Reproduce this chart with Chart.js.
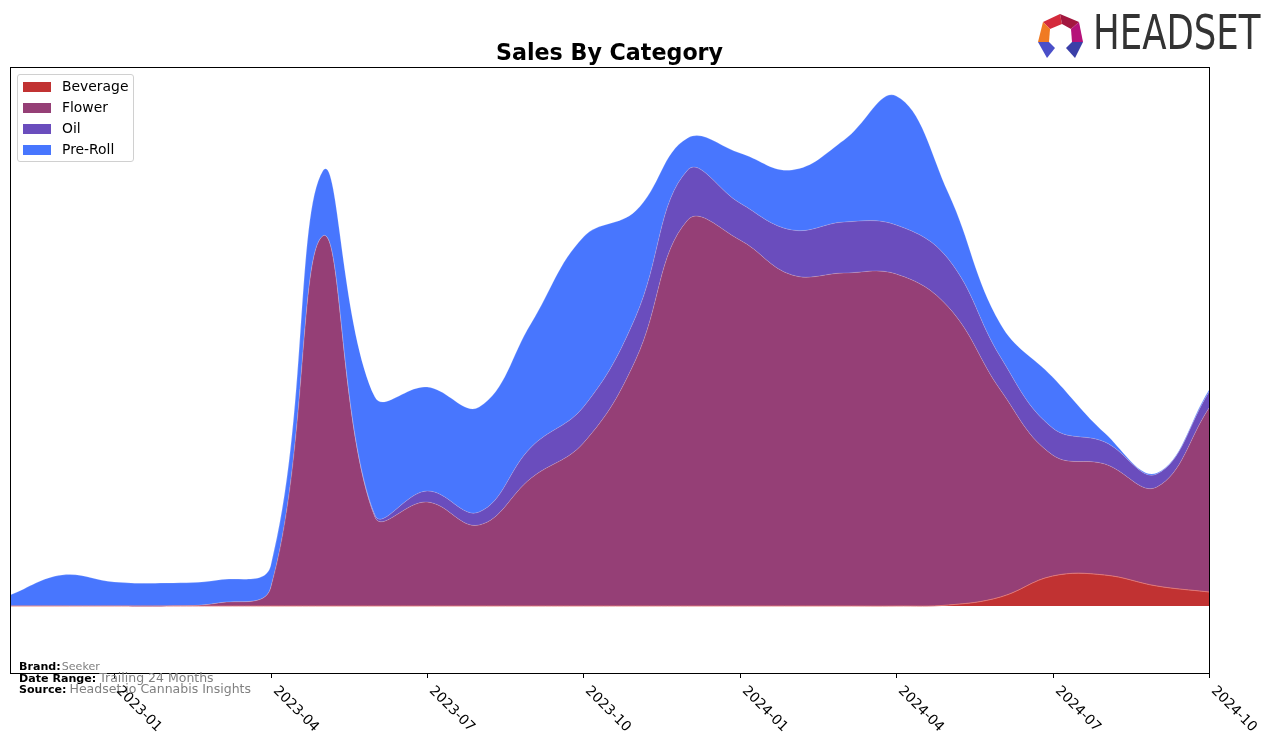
<!DOCTYPE html>
<html>
<head>
<meta charset="utf-8">
<script src="https://cdn.jsdelivr.net/npm/chart.js@4.4.1/dist/chart.umd.min.js"></script>
<style>
body{margin:0;background:#fff;font-family:"DejaVu Sans",sans-serif;}
#wrap{position:relative;width:1276px;height:743px;overflow:hidden;}
#chart{position:absolute;left:0;top:0;}
.abs{position:absolute;white-space:nowrap;line-height:normal;}
#title{left:0;width:1219px;text-align:center;top:39px;font-size:22.2px;font-weight:bold;color:#000;}
#legend{left:17px;top:74px;width:115px;height:86px;border:1px solid #d0d0d0;border-radius:3px;background:rgba(255,255,255,0.8);}
.lg-row{position:absolute;left:5px;height:21px;font-size:13.9px;color:#000;}
.lg-sw{position:absolute;left:0;top:1px;width:28px;height:10px;}
.lg-tx{position:absolute;left:39px;top:-3px;}
.tick{font-size:13.9px;color:#000;transform:rotate(45deg);transform-origin:0 0;}
.foot b{font-size:11.1px;color:#000;}
.foot span{color:#808080;margin-left:1px;}
#logo-text{left:1093px;top:4px;font-size:48px;color:#333;transform:scaleX(0.74);transform-origin:0 0;letter-spacing:0px;}
</style>
</head>
<body>
<div id="wrap">
<canvas id="chart" width="1276" height="743"></canvas>
<div id="title" class="abs">Sales By Category</div>
<div id="legend" class="abs"></div>
<div class="abs foot" style="left:19px;top:655px;"><b>Brand:</b><span style="font-size:11.1px;">Seeker</span></div>
<div class="abs foot" style="left:19px;top:667px;"><b>Date Range:</b><span style="font-size:12.5px;margin-left:3px;">Trailing 24 Months</span></div>
<div class="abs foot" style="left:19px;top:678px;"><b>Source:</b><span style="font-size:12.5px;margin-left:3px;">Headset.io Cannabis Insights</span></div>
<svg class="abs" style="left:1036px;top:12px;" width="50" height="50" viewBox="1036 12 50 50">
  <polygon points="1043,22 1060,14 1062,24 1050,29" fill="#d42a3c"/>
  <polygon points="1060,14 1079,22 1071,29 1062,24" fill="#a3173f"/>
  <polygon points="1079,22 1083,42 1072,42 1071,29" fill="#b5127a"/>
  <polygon points="1043,22 1050,29 1049,42 1038,42" fill="#f07a22"/>
  <polygon points="1038,42 1049,42 1055,48 1047,58" fill="#4a4fc8"/>
  <polygon points="1072,42 1083,42 1075,58 1066,48" fill="#3a3fa8"/>
</svg>
<div id="logo-text" class="abs">HEADSET</div>
</div>
<script>
// ---- data (values in chart units) ----
const months = ["2022-11","2022-12","2023-01","2023-02","2023-03","2023-04","2023-05","2023-06",
  "2023-07","2023-08","2023-09","2023-10","2023-11","2023-12","2024-01","2024-02",
  "2024-03","2024-04","2024-05","2024-06","2024-07","2024-08","2024-09","2024-10"];

const categories = ["Beverage","Flower","Oil","Pre-Roll"];

const beverage = [0,0,0,0,0,0,0,0,0,0,0,0,0,0,0,0,0,0,1,9,30,31,20,14];
const flower   = [0,0,0,0,3,18,370,89,104,81,128,163,246,386,366,331,333,332,298,207,121,111,99,184];
const oil      = [0,0,0,0,0,0,0,2,11,13,31,36,43,50,37,45,51,49,48,33,27,22,13,16];
const preRoll  = [11,31,24,23,23,22,65,118,104,105,124,170,106,32,50,60,82,129,66,33,51,9,1,2];

const tickMonths = ["2023-01","2023-04","2023-07","2023-10","2024-01","2024-04","2024-07","2024-10"];

const colors = ["#c13232","#953f76","#6a4dbd","#4876fe"];
const series = [beverage, flower, oil, preRoll];

/* ======================
   FRAME + TICK MARKS
====================== */
const framePlugin = {
  id: "frame",
  afterDraw(chart){
    const c = chart.ctx, a = chart.chartArea, xs = chart.scales.x;
    c.save();
    c.strokeStyle = "#000";
    c.lineWidth = 1;
    c.strokeRect(Math.round(a.left)+0.5, Math.round(a.top)+0.5, Math.round(a.right-a.left), Math.round(a.bottom-a.top));
    tickMonths.forEach(m => {
      const px = Math.round(xs.getPixelForValue(months.indexOf(m))) + 0.5;
      c.beginPath();
      c.moveTo(px, a.bottom);
      c.lineTo(px, a.bottom + 5);
      c.stroke();
    });
    c.restore();
  }
};

const chart = new Chart(document.getElementById("chart"), {
  type: "line",
  data: {
    datasets: categories.map((name, k) => ({
      label: name,
      data: series[k].map((v, i) => ({x: i, y: v})),
      backgroundColor: colors[k],
      borderColor: k === 0 ? "rgba(225,120,120,0.9)" : "rgba(255,255,255,0.3)",
      borderWidth: k === 0 ? 1 : 0.6,
      pointRadius: 0,
      fill: k === 0 ? "origin" : "-1",
      tension: 0.4
    }))
  },
  options: {
    responsive: false,
    animation: false,
    devicePixelRatio: 1,
    layout: {padding: {left: 10, top: 67, right: 67, bottom: 70}},
    plugins: {legend: {display: false}, tooltip: {enabled: false}, title: {display: false}},
    scales: {
      x: {type: "linear", min: 0, max: months.length - 1, display: false},
      y: {stacked: true, min: -67, max: 539, display: false}
    }
  },
  plugins: [framePlugin]
});

// legend
const lg = document.getElementById("legend");
categories.forEach((name, k) => {
  const row = document.createElement("div");
  row.className = "lg-row";
  row.style.top = (6 + k * 21) + "px";
  row.innerHTML = '<div class="lg-sw" style="background:' + colors[k] + '"></div><div class="lg-tx">' + name + '</div>';
  lg.appendChild(row);
});

// rotated tick labels
const wrap = document.getElementById("wrap");
const xs = chart.scales.x;
tickMonths.forEach(m => {
  const px = xs.getPixelForValue(months.indexOf(m));
  const d = document.createElement("div");
  d.className = "abs tick";
  d.textContent = m;
  d.style.left = (px + 11) + "px";
  d.style.top = (chart.chartArea.bottom + 9) + "px";
  wrap.appendChild(d);
});
</script>
</body>
</html>
